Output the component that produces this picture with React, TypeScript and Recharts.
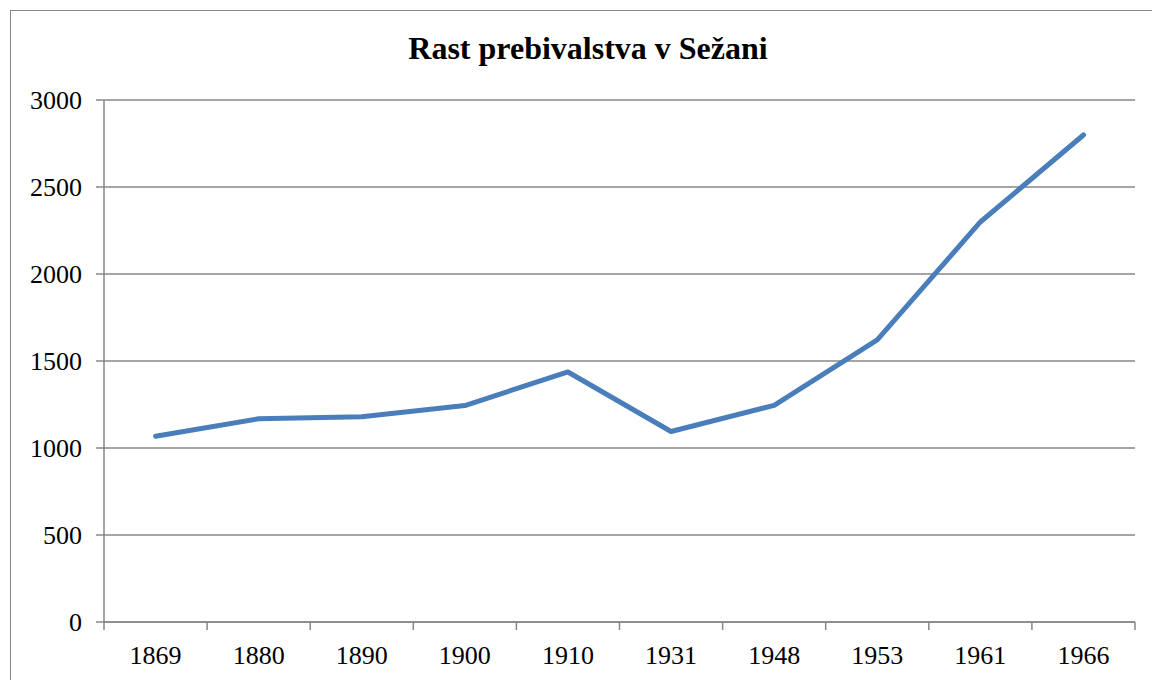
import React from 'react';
import { LineChart, Line, XAxis, YAxis, CartesianGrid } from 'recharts';

const YEARS = ['1869', '1880', '1890', '1900', '1910', '1931', '1948', '1953', '1961', '1966'];
const POPULATION = [1068, 1168, 1180, 1244, 1437, 1095, 1245, 1621, 2299, 2799];
const Y_TICKS = [0, 500, 1000, 1500, 2000, 2500, 3000];

const W = 1152;
const H = 680;
const MARGIN = { top: 100, right: 17, bottom: 0, left: 0 };
const X_AXIS_H = 58;
const Y_AXIS_W = 104;
const BAND = (W - MARGIN.left - MARGIN.right - Y_AXIS_W) / YEARS.length;
const GRAY = '#878787';
const FONT = 'Liberation Serif, DejaVu Serif, serif';

const data = YEARS.map((year, i) => ({ year, value: POPULATION[i] }));

// Excel style: tick marks sit between categories, labels in the middle
const YearTick = (props: any) => {
  const { x, y, payload, index } = props;
  const left = x - BAND / 2;
  return (
    <g>
      <line x1={left} y1={y} x2={left} y2={y + 8} stroke={GRAY} strokeWidth={1.5} />
      {index === YEARS.length - 1 && (
        <line x1={x + BAND / 2} y1={y} x2={x + BAND / 2} y2={y + 8} stroke={GRAY} strokeWidth={1.5} />
      )}
      <text x={x} y={y + 42} textAnchor="middle" fontSize={26} fontFamily={FONT} fill="#000">
        {payload.value}
      </text>
    </g>
  );
};

export default function App() {
  return (
    <div style={{ position: 'absolute', left: 0, top: 0, width: W, height: H, overflow: 'hidden', background: '#fff' }}>
      <div
        style={{
          position: 'absolute',
          left: 10,
          top: 10,
          width: W,
          height: H,
          border: `1.5px solid ${GRAY}`,
        }}
      />
      <div
        style={{
          position: 'absolute',
          left: 12,
          top: 30,
          width: W,
          textAlign: 'center',
          fontFamily: FONT,
          fontWeight: 'bold',
          fontSize: 32,
          color: '#000',
        }}
      >
        Rast prebivalstva v Sežani
      </div>
      <div style={{ position: 'absolute', left: 0, top: 0 }}>
        <LineChart width={W} height={H} data={data} margin={MARGIN}>
          <CartesianGrid vertical={false} stroke={GRAY} strokeWidth={1.5} />
          <XAxis
            dataKey="year"
            interval={0}
            height={X_AXIS_H}
            padding={{ left: BAND / 2, right: BAND / 2 }}
            tickLine={false}
            tickSize={0}
            tickMargin={0}
            axisLine={{ stroke: GRAY, strokeWidth: 1.5 }}
            tick={<YearTick />}
          />
          <YAxis
            width={Y_AXIS_W}
            domain={[0, 3000]}
            ticks={Y_TICKS}
            interval={0}
            tickSize={8}
            tickMargin={14}
            tickLine={{ stroke: GRAY, strokeWidth: 1.5 }}
            axisLine={{ stroke: GRAY, strokeWidth: 1.5 }}
            tick={{ fontSize: 26, fontFamily: FONT, fill: '#000' }}
          />
          <Line
            type="linear"
            dataKey="value"
            stroke="#4a7ebb"
            strokeWidth={5}
            strokeLinecap="round"
            strokeLinejoin="round"
            dot={false}
            activeDot={false}
            isAnimationActive={false}
          />
        </LineChart>
      </div>
    </div>
  );
}
